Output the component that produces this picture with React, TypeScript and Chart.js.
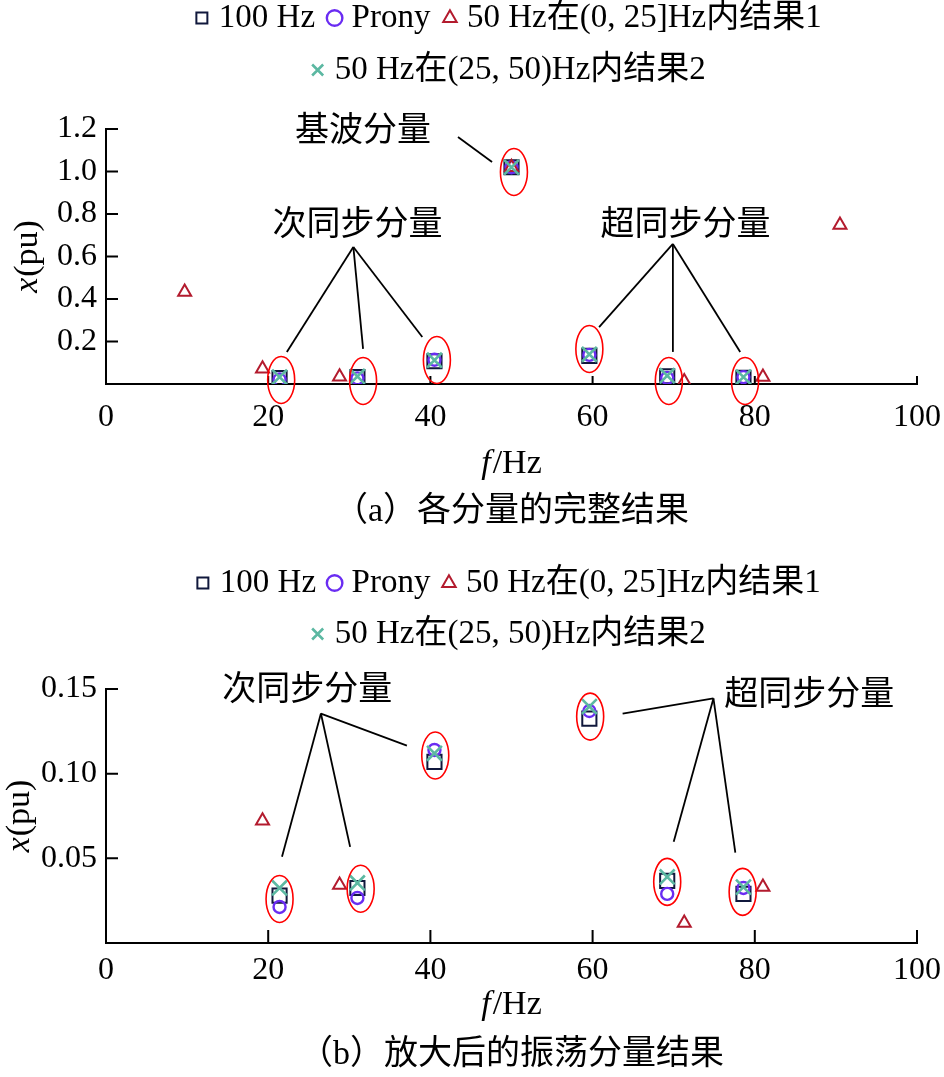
import React, { useEffect, useRef } from 'react';
import { Chart, registerables } from 'chart.js';

Chart.register(...registerables);

// ---------------- data ----------------
const seriesLabels = ['100 Hz', 'Prony', '50 Hz在(0, 25]Hz内结果1', '50 Hz在(25, 50)Hz内结果2'];

const hz100Freq = [21.4, 31.0, 40.5, 50.0, 59.6, 69.2, 78.6];
const hz100Amp = [0.028, 0.0325, 0.107, 1.02, 0.1325, 0.0367, 0.029];

const pronyFreq = [21.4, 31.0, 40.5, 50.0, 59.6, 69.2, 78.6];
const pronyAmp = [0.0213, 0.0266, 0.114, 1.02, 0.137, 0.029, 0.0325];

const res1Freq = [9.7, 19.3, 28.8, 50.0, 71.3, 81.0, 90.5];
const res1Amp = [0.433, 0.0722, 0.0343, 1.02, 0.0118, 0.033, 0.748];

const res2Freq = [21.4, 31.0, 40.5, 50.0, 59.6, 69.2, 78.6];
const res2Amp = [0.0325, 0.0355, 0.112, 1.02, 0.1396, 0.039, 0.033];

const xTickValues = [0, 20, 40, 60, 80, 100];
const topYTickValues = [0.2, 0.4, 0.6, 0.8, 1.0, 1.2];
const bottomYTickValues = [0.05, 0.1, 0.15];

const topCaption = '（a）各分量的完整结果';
const bottomCaption = '（b）放大后的振荡分量结果';
const xTitleItalic = 'f';
const xTitleRest = '/Hz';
const yTitleItalic = 'x';
const yTitleRest = '(pu)';

// rings (ellipses) around clusters, in data units
const topRingFreq = [21.6, 31.7, 40.8, 50.3, 59.6, 69.4, 78.8];
const topRingAmp = [0.019, 0.014, 0.113, 0.998, 0.165, 0.014, 0.014];
const bottomRingFreq = [21.4, 31.4, 40.6, 59.7, 69.2, 78.5];
const bottomRingAmp = [0.026, 0.032, 0.1107, 0.1337, 0.0361, 0.0302];

// callouts, in data units
type Pt = [number, number];
const topCalloutText = ['基波分量', '次同步分量', '超同步分量'];
const topCalloutTextPos: Pt[] = [[31.7, 1.205], [31.0, 0.762], [71.45, 0.762]];
const topCalloutApex: Pt[] = [[43.4, 1.162], [30.5, 0.645], [69.9, 0.659]];
const topCalloutEnds: Pt[][] = [
  [[47.6, 1.045]],
  [[22.3, 0.151], [31.7, 0.165], [39.0, 0.221]],
  [[60.8, 0.268], [69.9, 0.151], [78.2, 0.151]],
];
const bottomCalloutText = ['次同步分量', '超同步分量'];
const bottomCalloutTextPos: Pt[] = [[24.8, 0.1509], [86.7, 0.1479]];
const bottomCalloutApex: Pt[] = [[26.5, 0.1355], [74.9, 0.1444]];
const bottomCalloutEnds: Pt[][] = [
  [[21.7, 0.0509], [30.1, 0.0568], [37.1, 0.1166]],
  [[63.7, 0.1355], [70.0, 0.0598], [77.6, 0.0533]],
];

// ---------------- styles ----------------
const SERIF = "'Liberation Serif', 'Noto Sans CJK SC', serif";
const CJK = "'Noto Sans CJK SC', sans-serif";
const LEGEND_FONT = 33;
const TICK_FONT = 32;
const AXIS_FONT = 34;
const CAPTION_FONT = 34;
const NOTE_FONT = 34;
const PLOT_LEFT = 106;
const PLOT_RIGHT = 917;
const W = 944;

const NAVY = '#10183c';
const PURPLE = '#6a2cf2';
const DARKRED = '#b31b2e';
const TEAL = '#5cb8a2';
const RING = '#ff0000';

interface Geom {
  canvasH: number;
  row1Center: number;
  rowSpacing: number;
  plotTop: number;
  plotBottom: number;
  xLabelPad: number;
  xTitleY: number;
  captionCenter: number;
  yTitleX: number;
  xTickLen: number;
  yTickLen: number;
}

interface Spec {
  caption: string;
  yMax: number;
  yDecimals: number;
  yTicks: number[];
  ringF: number[];
  ringV: number[];
  noteText: string[];
  notePos: Pt[];
  noteApex: Pt[];
  noteEnds: Pt[][];
  geom: Geom;
}

const topSpec: Spec = {
  caption: topCaption,
  yMax: 1.2,
  yDecimals: 1,
  yTicks: topYTickValues,
  ringF: topRingFreq,
  ringV: topRingAmp,
  noteText: topCalloutText,
  notePos: topCalloutTextPos,
  noteApex: topCalloutApex,
  noteEnds: topCalloutEnds,
  geom: {
    canvasH: 540, row1Center: 18, rowSpacing: 52, plotTop: 129, plotBottom: 384,
    xLabelPad: 14, xTitleY: 464, captionCenter: 512, yTitleX: 28, xTickLen: 8, yTickLen: 12,
  },
};

const bottomSpec: Spec = {
  caption: bottomCaption,
  yMax: 0.15,
  yDecimals: 2,
  yTicks: bottomYTickValues,
  ringF: bottomRingFreq,
  ringV: bottomRingAmp,
  noteText: bottomCalloutText,
  notePos: bottomCalloutTextPos,
  noteApex: bottomCalloutApex,
  noteEnds: bottomCalloutEnds,
  geom: {
    canvasH: 537, row1Center: 43, rowSpacing: 51, plotTop: 149, plotBottom: 403,
    xLabelPad: 8, xTitleY: 465, captionCenter: 515, yTitleX: 20, xTickLen: 13, yTickLen: 12,
  },
};

function toPoints(f: number[], v: number[]) {
  return f.map((x, i) => ({ x, y: v[i] }));
}

function decorPlugin(s: Spec) {
  return {
    id: 'decor',
    afterDatasetsDraw(chart: any) {
      const ctx = chart.ctx as CanvasRenderingContext2D;
      const xs = chart.scales.x;
      const ys = chart.scales.y;
      const area = chart.chartArea;
      const g = s.geom;
      const px = (f: number) => xs.getPixelForValue(f);
      const py = (v: number) => ys.getPixelForValue(v);
      ctx.save();
      // inward ticks
      ctx.strokeStyle = '#000';
      ctx.lineWidth = 2;
      ctx.beginPath();
      xTickValues.forEach((t) => {
        if (t === 0) return;
        const x = px(t);
        ctx.moveTo(x, area.bottom);
        ctx.lineTo(x, area.bottom - g.xTickLen);
      });
      s.yTicks.forEach((t) => {
        const y = py(t);
        ctx.moveTo(area.left, y);
        ctx.lineTo(area.left + g.yTickLen, y);
      });
      ctx.stroke();
      // rings
      ctx.strokeStyle = RING;
      ctx.lineWidth = 1.6;
      s.ringF.forEach((f, i) => {
        ctx.beginPath();
        ctx.ellipse(px(f), py(s.ringV[i]), 13.5, 23.5, 0, 0, Math.PI * 2);
        ctx.stroke();
      });
      // callout lines
      ctx.strokeStyle = '#000';
      ctx.lineWidth = 1.8;
      s.noteApex.forEach((a, i) => {
        s.noteEnds[i].forEach((e) => {
          ctx.beginPath();
          ctx.moveTo(px(a[0]), py(a[1]));
          ctx.lineTo(px(e[0]), py(e[1]));
          ctx.stroke();
        });
      });
      // callout text
      ctx.fillStyle = '#000';
      ctx.font = `${NOTE_FONT}px ${CJK}`;
      ctx.textAlign = 'center';
      ctx.textBaseline = 'middle';
      s.noteText.forEach((t, i) => {
        ctx.fillText(t, px(s.notePos[i][0]), py(s.notePos[i][1]));
      });
      ctx.restore();
    },
    afterDraw(chart: any) {
      const ctx = chart.ctx as CanvasRenderingContext2D;
      const area = chart.chartArea;
      const g = s.geom;
      ctx.save();
      ctx.fillStyle = '#000';
      ctx.textBaseline = 'middle';
      ctx.textAlign = 'left';
      // x title
      ctx.font = `italic ${AXIS_FONT}px ${SERIF}`;
      const w1 = ctx.measureText(xTitleItalic).width + 2;
      ctx.font = `${AXIS_FONT}px ${SERIF}`;
      const w2 = ctx.measureText(xTitleRest).width;
      const cx = (area.left + area.right) / 2;
      const x0 = cx - (w1 + w2) / 2;
      ctx.font = `italic ${AXIS_FONT}px ${SERIF}`;
      ctx.fillText(xTitleItalic, x0, g.xTitleY);
      ctx.font = `${AXIS_FONT}px ${SERIF}`;
      ctx.fillText(xTitleRest, x0 + w1, g.xTitleY);
      // y title
      ctx.save();
      ctx.translate(g.yTitleX, (area.top + area.bottom) / 2);
      ctx.rotate(-Math.PI / 2);
      ctx.font = `italic ${AXIS_FONT}px ${SERIF}`;
      const v1 = ctx.measureText(yTitleItalic).width + 1;
      ctx.font = `${AXIS_FONT}px ${SERIF}`;
      const v2 = ctx.measureText(yTitleRest).width;
      const y0 = -(v1 + v2) / 2;
      ctx.font = `italic ${AXIS_FONT}px ${SERIF}`;
      ctx.fillText(yTitleItalic, y0, 0);
      ctx.font = `${AXIS_FONT}px ${SERIF}`;
      ctx.fillText(yTitleRest, y0 + v1, 0);
      ctx.restore();
      ctx.restore();
    },
  };
}

function buildConfig(s: Spec): any {
  const g = s.geom;
  const legendPad = g.rowSpacing - LEGEND_FONT;
  const padTop = g.row1Center - legendPad - LEGEND_FONT / 2;
  const legendH = 2 * g.rowSpacing + 10;
  const spacer = g.plotTop - padTop - legendH;
  const capPadBottom = g.canvasH - g.captionCenter - CAPTION_FONT / 2;
  const captionH = CAPTION_FONT + capPadBottom;
  const xAxisH = g.canvasH - captionH - g.plotBottom;

  const base = { showLine: false, backgroundColor: 'rgba(0,0,0,0)', pointBackgroundColor: 'rgba(0,0,0,0)' };
  const datasets = [
    { ...base, label: seriesLabels[0], data: toPoints(hz100Freq, hz100Amp), pointStyle: 'rect', pointRadius: 10, pointBorderWidth: 2, borderColor: NAVY, pointBorderColor: NAVY, order: 3 },
    { ...base, label: seriesLabels[1], data: toPoints(pronyFreq, pronyAmp), pointStyle: 'circle', pointRadius: 6, pointBorderWidth: 2.4, borderColor: PURPLE, pointBorderColor: PURPLE, order: 2 },
    { ...base, label: seriesLabels[2], data: toPoints(res1Freq, res1Amp), pointStyle: 'triangle', pointRadius: 7.5, pointBorderWidth: 2, borderColor: DARKRED, pointBorderColor: DARKRED, order: 1 },
    { ...base, label: seriesLabels[3], data: toPoints(res2Freq, res2Amp), pointStyle: 'crossRot', pointRadius: 10.5, pointBorderWidth: 2.6, borderColor: TEAL, pointBorderColor: TEAL, order: 0 },
  ];

  return {
    type: 'scatter',
    data: { datasets },
    options: {
      animation: false,
      responsive: false,
      devicePixelRatio: 1,
      events: [],
      layout: { padding: { top: padTop, left: 0, right: W - PLOT_RIGHT, bottom: 0 } },
      scales: {
        x: {
          type: 'linear',
          min: 0,
          max: 100,
          afterBuildTicks: (sc: any) => { sc.ticks = xTickValues.map((v) => ({ value: v })); },
          afterFit: (sc: any) => { sc.height = xAxisH; sc.paddingLeft = 0; sc.paddingRight = 0; },
          ticks: {
            font: { family: SERIF, size: TICK_FONT },
            color: '#000',
            padding: g.xLabelPad,
            maxRotation: 0,
            autoSkip: false,
            callback: (v: any) => String(v),
          },
          grid: { display: false, drawTicks: false },
          border: { display: true, color: '#000', width: 2 },
        },
        y: {
          type: 'linear',
          min: 0,
          max: s.yMax,
          afterBuildTicks: (sc: any) => { sc.ticks = s.yTicks.map((v) => ({ value: v })); },
          afterFit: (sc: any) => { sc.width = PLOT_LEFT; sc.paddingTop = 0; sc.paddingBottom = 0; },
          ticks: {
            font: { family: SERIF, size: TICK_FONT },
            color: '#000',
            padding: 9,
            autoSkip: false,
            callback: (v: any) => Number(v).toFixed(s.yDecimals),
          },
          grid: { display: false, drawTicks: false },
          border: { display: true, color: '#000', width: 2 },
        },
      },
      plugins: {
        legend: {
          display: true,
          position: 'top',
          fullSize: false,
          labels: {
            usePointStyle: true,
            boxWidth: 1,
            boxHeight: 11,
            padding: legendPad,
            color: '#000',
            font: { family: SERIF, size: LEGEND_FONT },
            sort: (a: any, b: any) => a.datasetIndex - b.datasetIndex,
          },
        },
        subtitle: {
          display: true,
          text: '',
          position: 'top',
          weight: 500,
          font: { size: 1, lineHeight: 1 },
          padding: { top: spacer - 1, bottom: 0 },
        },
        title: {
          display: true,
          text: s.caption,
          position: 'bottom',
          fullSize: false,
          color: '#000',
          font: { family: SERIF, size: CAPTION_FONT, lineHeight: 1, weight: 'normal' },
          padding: { top: 0, bottom: capPadBottom },
        },
        tooltip: { enabled: false },
      },
    },
    plugins: [decorPlugin(s)],
  };
}

function Panel({ spec }: { spec: Spec }) {
  const ref = useRef<HTMLCanvasElement | null>(null);
  useEffect(() => {
    if (!ref.current) return;
    const chart = new Chart(ref.current, buildConfig(spec));
    return () => chart.destroy();
  }, [spec]);
  return (
    <canvas
      ref={ref}
      width={W}
      height={spec.geom.canvasH}
      style={{ display: 'block', width: W, height: spec.geom.canvasH }}
    />
  );
}

export default function App() {
  return (
    <div style={{ position: 'absolute', left: 0, top: 0, width: W, height: 1077, background: '#fff' }}>
      <Panel spec={topSpec} />
      <Panel spec={bottomSpec} />
    </div>
  );
}
